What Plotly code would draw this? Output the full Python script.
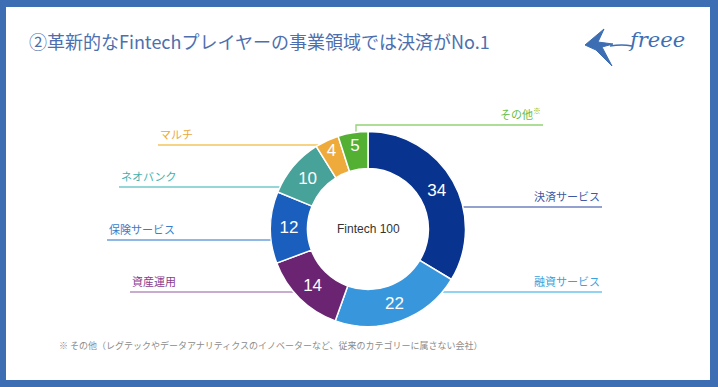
import math
import plotly.graph_objects as go

W, H = 718, 387

# ---- data ----
categories = ["決済サービス", "融資サービス", "資産運用", "保険サービス", "ネオバンク", "マルチ", "その他"]
values = [34, 22, 14, 12, 10, 4, 5]
slice_colors = ["#08338f", "#3896dc", "#6a2472", "#1a5ebe", "#47a29a", "#eeab3b", "#53b033"]
label_text_colors = ["#3f58a3", "#3aa2dc", "#8a3d8e", "#3b7cc9", "#3db3b0", "#eaa838", "#66bd48"]
line_colors = ["#6f82c0", "#6cc6ec", "#b98fc1", "#6ba1dc", "#72c9c9", "#f5c65b", "#92d274"]
title_text = "②革新的なFintechプレイヤーの事業領域では決済がNo.1"
center_text = "Fintech 100"
footnote = "※ その他（レグテックやデータアナリティクスのイノベーターなど、従来のカテゴリーに属さない会社）"

JP = "Noto Sans CJK JP"
frame_color = "#3d6eb3"

# pie geometry in pixels
cx, cy, R = 368, 229, 97.5

def px(x):
    return x / W

def py(y):
    return 1 - y / H

fig = go.Figure()
fig.add_trace(go.Pie(
    labels=categories, values=values, sort=False, direction="clockwise", rotation=0,
    hole=0.62,
    marker=dict(colors=slice_colors, line=dict(color="#ffffff", width=1.5)),
    textinfo="value", textposition="inside", insidetextorientation="horizontal",
    textfont=dict(family="Liberation Sans, Arial", size=17, color="#ffffff"),
    domain=dict(x=[px(cx - R), px(cx + R)], y=[py(cy + R), py(cy - R)]),
    showlegend=False, hoverinfo="label+value",
))

shapes = []
annotations = []

def circle_x(y, side):
    d = math.sqrt(max(R * R - (y - cy) ** 2, 0))
    return cx - d if side == "left" else cx + d

# leader lines: (category index, side, y, outer x)
leaders = [
    (5, "left", 145, 158),
    (4, "left", 187, 119),
    (3, "left", 240, 107),
    (2, "left", 292, 130),
    (0, "right", 207, 602),
    (1, "right", 292, 602),
]
for idx, side, y, xo in leaders:
    xc = circle_x(y, side)
    x0, x1 = (xo, xc) if side == "left" else (xc, xo)
    shapes.append(dict(type="line", xref="paper", yref="paper", x0=px(x0), x1=px(x1),
                       y0=py(y), y1=py(y), line=dict(color=line_colors[idx], width=1.3),
                       layer="below"))
    annotations.append(dict(x=px(xo), y=py(y - 1), xref="paper", yref="paper",
                            text=categories[idx], showarrow=False,
                            xanchor="left" if side == "left" else "right", yanchor="bottom",
                            font=dict(family=JP, size=11, color=label_text_colors[idx])))

# "その他" bent leader
ox, oy, oxe = 356, 125, 543
top_y = cy - math.sqrt(R * R - (ox - cx) ** 2)
shapes.append(dict(type="path", xref="paper", yref="paper",
                   path=f"M {px(oxe)},{py(oy)} L {px(ox)},{py(oy)} L {px(ox)},{py(top_y)}",
                   line=dict(color=line_colors[6], width=1.3), layer="below"))
annotations.append(dict(x=px(oxe), y=py(oy - 1), xref="paper", yref="paper",
                        text=categories[6] + "<sup>※</sup>", showarrow=False,
                        xanchor="right", yanchor="bottom",
                        font=dict(family=JP, size=11, color=label_text_colors[6])))

# center text
annotations.append(dict(x=px(cx), y=py(cy), xref="paper", yref="paper", text=center_text,
                        showarrow=False, font=dict(family="Liberation Sans, Arial", size=12, color="#333333")))

# title
annotations.append(dict(x=px(27), y=py(41), xref="paper", yref="paper", text=title_text,
                        showarrow=False, xanchor="left", yanchor="middle",
                        font=dict(family=JP, size=18, color="#4d6fae")))

# footnote
annotations.append(dict(x=px(57), y=py(345), xref="paper", yref="paper", text=footnote,
                        showarrow=False, xanchor="left", yanchor="middle",
                        font=dict(family=JP, size=9, color="#8c8c8c")))

# frame
for (x0, y0, x1, y1) in [(0, 0, W, 7), (0, 380, W, H), (0, 0, 6, H), (710, 0, W, H)]:
    shapes.append(dict(type="rect", xref="paper", yref="paper", x0=px(x0), x1=px(x1),
                       y0=py(y1), y1=py(y0), fillcolor=frame_color, line=dict(width=0)))

# freee logo (bird + wordmark)
bird = [(585, 45), (604, 29), (598, 42), (613, 44), (602, 47), (612, 66), (596, 50)]
path = "M " + " L ".join(f"{px(x)},{py(y)}" for x, y in bird) + " Z"
shapes.append(dict(type="path", xref="paper", yref="paper", path=path,
                   fillcolor="#3d6eb3", line=dict(color="#3d6eb3", width=1)))
shapes.append(dict(type="path", xref="paper", yref="paper",
                   path=f"M {px(610)},{py(46)} Q {px(622)},{py(44)} {px(632)},{py(46)}",
                   line=dict(color="#3d6eb3", width=1.5)))
annotations.append(dict(x=px(626), y=py(40), xref="paper", yref="paper",
                        text="<i>freee</i>", showarrow=False, xanchor="left", yanchor="middle",
                        font=dict(family="DejaVu Serif", size=21, color="#3d6eb3")))

fig.update_layout(
    width=W, height=H, margin=dict(l=0, r=0, t=0, b=0),
    paper_bgcolor="#ffffff", plot_bgcolor="#ffffff",
    shapes=shapes, annotations=annotations,
)

fig.write_html("out.html", config={"displayModeBar": False},
               post_script="document.body.style.margin='0';document.body.style.overflow='hidden';")
